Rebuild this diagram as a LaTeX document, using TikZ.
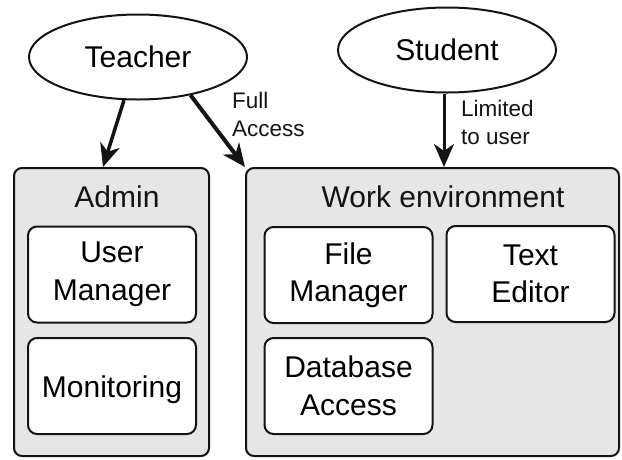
\documentclass[tikz,border=0pt]{standalone}
\usepackage{fontspec}
\setmainfont{Liberation Sans}
\usetikzlibrary{shapes.geometric,arrows.meta}
\definecolor{groupgray}{HTML}{E6E6E6}
\definecolor{ink}{HTML}{141414}
\begin{document}
\begin{tikzpicture}[x=1pt,y=-1pt,
  big/.style={font=\fontsize{30}{37.5}\selectfont},
  small/.style={font=\fontsize{22.5}{27.5}\selectfont},
  actor/.style={ellipse, draw=ink, line width=2pt, fill=white, minimum width=218pt, minimum height=85pt, inner sep=0pt, big},
  group/.style={draw=ink, line width=2pt, fill=groupgray, rounded corners=8pt, inner sep=0pt, minimum width=195pt, minimum height=288pt},
  module/.style={draw=ink, line width=2pt, fill=white, rounded corners=9pt, align=center, big, inner sep=0pt, minimum width=168pt, minimum height=96pt},
  arr/.style={-{Stealth[length=23pt,width=20pt,inset=7pt]}, line width=3pt, draw=ink},
  lbl/.style={small, align=left, inner sep=0pt, anchor=north west, text=ink},
  title/.style={big, anchor=base, inner sep=0pt, text=ink}
]
\useasboundingbox (0,0) rectangle (622,459);
\fill[white] (0,0) rectangle (622,459);

% groups
\node[group] (admin) at (111.5,312) {};
\node[group, minimum width=373pt] (work) at (432.5,312) {};
\node[title] (admintitle) at (117,207) {Admin};
\node[title] (worktitle) at (443,207) {Work environment};

% modules
\node[module] (usermgr) at (112,274.5) {User\\Manager};
\node[module, text height=22pt, text depth=0pt] (monitor) at (112,386) {Monitoring};
\node[module] (filemgr) at (348.5,275) {File\\Manager};
\node[module] (texted) at (530.5,274) {Text\\Editor};
\node[module] (dbaccess) at (348.5,386) {Database\\Access};

% actors
\node[actor] (teacher) at (138,57) {Teacher};
\node[actor] (student) at (447,50) {Student};

% connectors
\draw[arr, line width=3.5pt] (teacher.-108) -- ([xshift=-8.5pt]admin.north);
\draw[arr, line width=4pt] (teacher.-36) -- (work.north west);
\draw[arr] ([xshift=-3pt]student.south) -- ([xshift=-3pt]student.south |- work.north);

% labels
\node[lbl] (fullacc) at (232,92) {Full\\Access};
\node[lbl] (limited) at (461,100) {Limited\\to user};
\end{tikzpicture}
\end{document}
